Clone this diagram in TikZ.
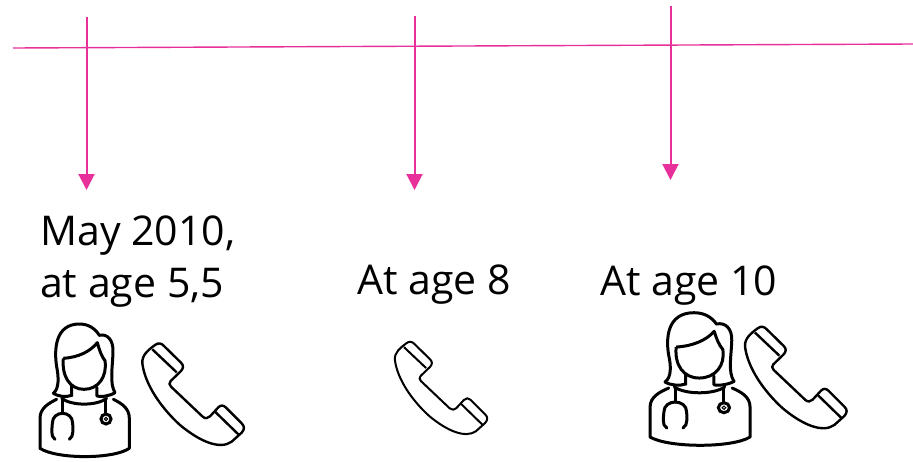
\documentclass[tikz,border=0pt]{standalone}
\usepackage{fontspec}
\setmainfont{Open Sans}
\usetikzlibrary{arrows.meta,positioning,calc}
\definecolor{tlpink}{HTML}{E8309A}

\tikzset{
  doctor/.pic={
    % hair
    \draw[line join=round, line cap=round] (100,250) .. controls (118,236) and (116,200) .. (110,170)
      .. controls (102,120) and (105,42) .. (178,42)
      .. controls (205,42) and (225,55) .. (238,76)
      .. controls (262,70) and (280,90) .. (279,125)
      .. controls (278,170) and (268,220) .. (285,248)
      .. controls (270,258) and (240,262) .. (231,258) -- (231,232);
    \draw[line cap=round] (100,250) .. controls (115,260) and (140,262) .. (155,256) -- (155,228);
    % face
    \draw[line join=round] (130,145) .. controls (175,142) and (210,125) .. (232,98)
      .. controls (238,120) and (245,140) .. (255,152)
      .. controls (262,200) and (235,238) .. (192,238)
      .. controls (150,238) and (125,200) .. (130,145);
    % body
    \draw[line join=round, line cap=round] (110,268) .. controls (85,280) and (60,295) .. (60,325) -- (60,415)
      .. controls (110,448) and (280,448) .. (328,415) -- (328,325)
      .. controls (328,295) and (305,280) .. (280,268);
    \draw[line cap=round] (125,265) .. controls (155,288) and (230,288) .. (260,265);
    % stethoscope
    \draw[line cap=round] (128,268) -- (128,310);
    \draw[line cap=round] (105,388) .. controls (90,380) and (97,350) .. (97,340)
      .. controls (97,300) and (158,300) .. (158,340)
      .. controls (158,350) and (163,380) .. (148,388);
    \draw (258,268) -- (258,311);
    \draw (258,327) circle (15);
    \draw[line width=1pt] (258,327) circle (5);
  },
  phone/.pic={
    \draw[line join=round] (405,105) .. controls (415,97) and (425,100) .. (432,108)
      -- (483,158) .. controls (492,167) and (490,175) .. (483,183)
      -- (452,213) .. controls (447,219) and (447,224) .. (453,230)
      -- (548,320) .. controls (556,327) and (563,325) .. (570,319)
      -- (595,292) .. controls (602,285) and (610,285) .. (617,292)
      -- (665,340) .. controls (674,349) and (674,358) .. (665,368)
      -- (635,395) .. controls (600,420) and (540,395) .. (480,345)
      .. controls (425,295) and (375,225) .. (367,160)
      .. controls (365,135) and (385,120) .. (405,105);
    \draw (397,118) -- (470,187);
    \draw (585,305) -- (655,373);
  }
}

\begin{document}
\begin{tikzpicture}[
  x=1pt, y=-1pt,
  font=\fontsize{41}{52}\selectfont,
  label/.style={inner sep=0pt, align=left, text=black},
  tline/.style={tlpink, line width=1.4pt},
  arr/.style={-{Triangle[length=16pt,width=16pt]}, tlpink, line width=2pt},
  icon/.style={line width=3pt, black}
]
\useasboundingbox (0,0) rectangle (913,461);

% time line
\coordinate (start) at (13,48);
\coordinate (end) at (913,44);
\draw[tline] (start) -- (end);

% labels
\node[label, anchor=west] (may) at (40,262) {May 2010,\\at age 5,5};
\node[label, anchor=base west] (eight) at (357,294) {At age 8};
\node[label, anchor=base west] (ten) at (600,295) {At age 10};

% arrows
\coordinate (topA) at (86.5,17);
\coordinate (tipA) at (86.5,190);
\coordinate (topB) at (414.5,16);
\coordinate (tipB) at (414.5,190);
\coordinate (topC) at (670.5,6);
\coordinate (tipC) at (670.5,180);
\draw[arr] (topA) -- (tipA);
\draw[arr] (topB) -- (tipB);
\draw[arr] (topC) -- (tipC);

% icons
\pic[icon, scale=1/3] (docA) at (20,310) {doctor};
\pic[icon, line width=2.4pt, scale=1/3] (telA) at (20,310) {phone};
\pic[icon, line width=2pt, scale=.303] (telB) at (283.7,311.4) {phone};
\pic[icon, xscale=.373, yscale=1/3] (docC) at (627.7,298.7) {doctor};
\pic[icon, line width=2.4pt, scale=1/3] (telC) at (622.7,293.3) {phone};
\end{tikzpicture}
\end{document}
